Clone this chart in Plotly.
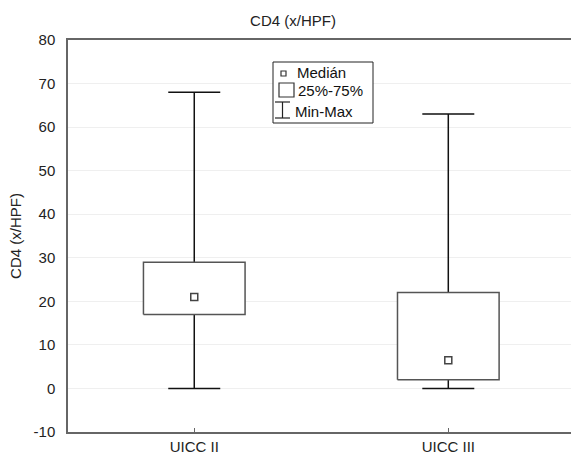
import plotly.graph_objects as go
import numpy as np

categories = ["UICC II", "UICC III"]
minimum = [0, 0]
q1 = [17, 2]
median = [21, 6.5]
q3 = [29, 22]
maximum = [68, 63]
y_ticks = [-10, 0, 10, 20, 30, 40, 50, 60, 70, 80]
y_ticktext = ["-10", "0", "10", "20", "30", "40", "50", "60", "70", "80"]
legend_labels = ["Medián", "25%-75%", "Min-Max"]

FONT = "Liberation Sans, Arial, sans-serif"
BOX_HALF = 0.2
L, R, T, B = 68, 1, 40, 23
W, H = 572, 455
PW, PH = W - L - R, H - T - B

def px(x):
    return (x - L) / PW

def py(y):
    return (H - B - y) / PH

pos = np.arange(len(categories))
med = np.array(median, float)

fig = go.Figure()

# whiskers (min-max)
fig.add_trace(go.Scatter(
    x=pos, y=med, mode="markers", marker=dict(opacity=0, size=1),
    error_y=dict(type="data", symmetric=False,
                 array=np.array(maximum) - med,
                 arrayminus=med - np.array(minimum),
                 width=26, thickness=1.5, color="#111"),
    showlegend=False, hoverinfo="skip"))

# boxes (25%-75%)
for i, p in enumerate(pos):
    fig.add_trace(go.Scatter(
        x=[p - BOX_HALF, p + BOX_HALF, p + BOX_HALF, p - BOX_HALF, p - BOX_HALF],
        y=[q1[i], q1[i], q3[i], q3[i], q1[i]],
        mode="lines", fill="toself", fillcolor="white",
        line=dict(color="#555", width=1.5), showlegend=False, hoverinfo="skip"))

# medians
fig.add_trace(go.Scatter(
    x=pos, y=med, mode="markers",
    marker=dict(symbol="square-open", size=7, color="#444", line=dict(width=1.5)),
    showlegend=False))

# manual legend
shapes = [
    dict(type="rect", xref="paper", yref="paper", x0=px(273), x1=px(373), y0=py(62), y1=py(123),
         line=dict(color="#222", width=1), fillcolor="white"),
    dict(type="rect", xref="paper", yref="paper", x0=px(281), x1=px(286), y0=py(71), y1=py(76),
         line=dict(color="#333", width=1.2)),
    dict(type="rect", xref="paper", yref="paper", x0=px(279), x1=px(294), y0=py(83), y1=py(97),
         line=dict(color="#333", width=1.2)),
    dict(type="line", xref="paper", yref="paper", x0=px(282.5), x1=px(282.5), y0=py(102), y1=py(118),
         line=dict(color="#222", width=1.2)),
    dict(type="line", xref="paper", yref="paper", x0=px(275), x1=px(290), y0=py(102), y1=py(102),
         line=dict(color="#222", width=1.2)),
    dict(type="line", xref="paper", yref="paper", x0=px(275), x1=px(290), y0=py(118), y1=py(118),
         line=dict(color="#222", width=1.2)),
]
annotations = []
for lab, xx, yy in zip(legend_labels, [295, 296, 293], [73, 90, 111]):
    annotations.append(dict(text=lab, xref="paper", yref="paper", x=px(xx), y=py(yy),
                            xanchor="left", yanchor="middle", showarrow=False,
                            font=dict(family=FONT, size=15, color="#111")))

fig.update_layout(
    width=W, height=H,
    margin=dict(l=L, r=R, t=T, b=B),
    paper_bgcolor="white", plot_bgcolor="white",
    font=dict(family=FONT, size=15, color="#222"),
    title=dict(text="CD4 (x/HPF)", x=293 / W, xref="container", xanchor="center",
               y=1 - 21 / H, yref="container", yanchor="middle",
               font=dict(family=FONT, size=15, color="#222")),
    shapes=shapes, annotations=annotations,
    xaxis=dict(range=[-0.497, 1.483], tickvals=list(pos), ticktext=categories,
               showline=True, linecolor="#666", linewidth=1.5, mirror=True,
               ticks="inside", ticklen=4, tickcolor="#666", showgrid=False, zeroline=False,
               tickfont=dict(family=FONT, size=15, color="#222")),
    yaxis=dict(range=[-10, 80], tickvals=y_ticks, ticktext=y_ticktext,
               showline=True, linecolor="#666", linewidth=1.5,
               gridcolor="#efefef", zeroline=False, ticks="", ticklabelstandoff=8,
               title=dict(text="CD4 (x/HPF)", standoff=8, font=dict(family=FONT, size=15, color="#222")),
               tickfont=dict(family=FONT, size=15, color="#222")),
)

fig.write_html("out.html")
